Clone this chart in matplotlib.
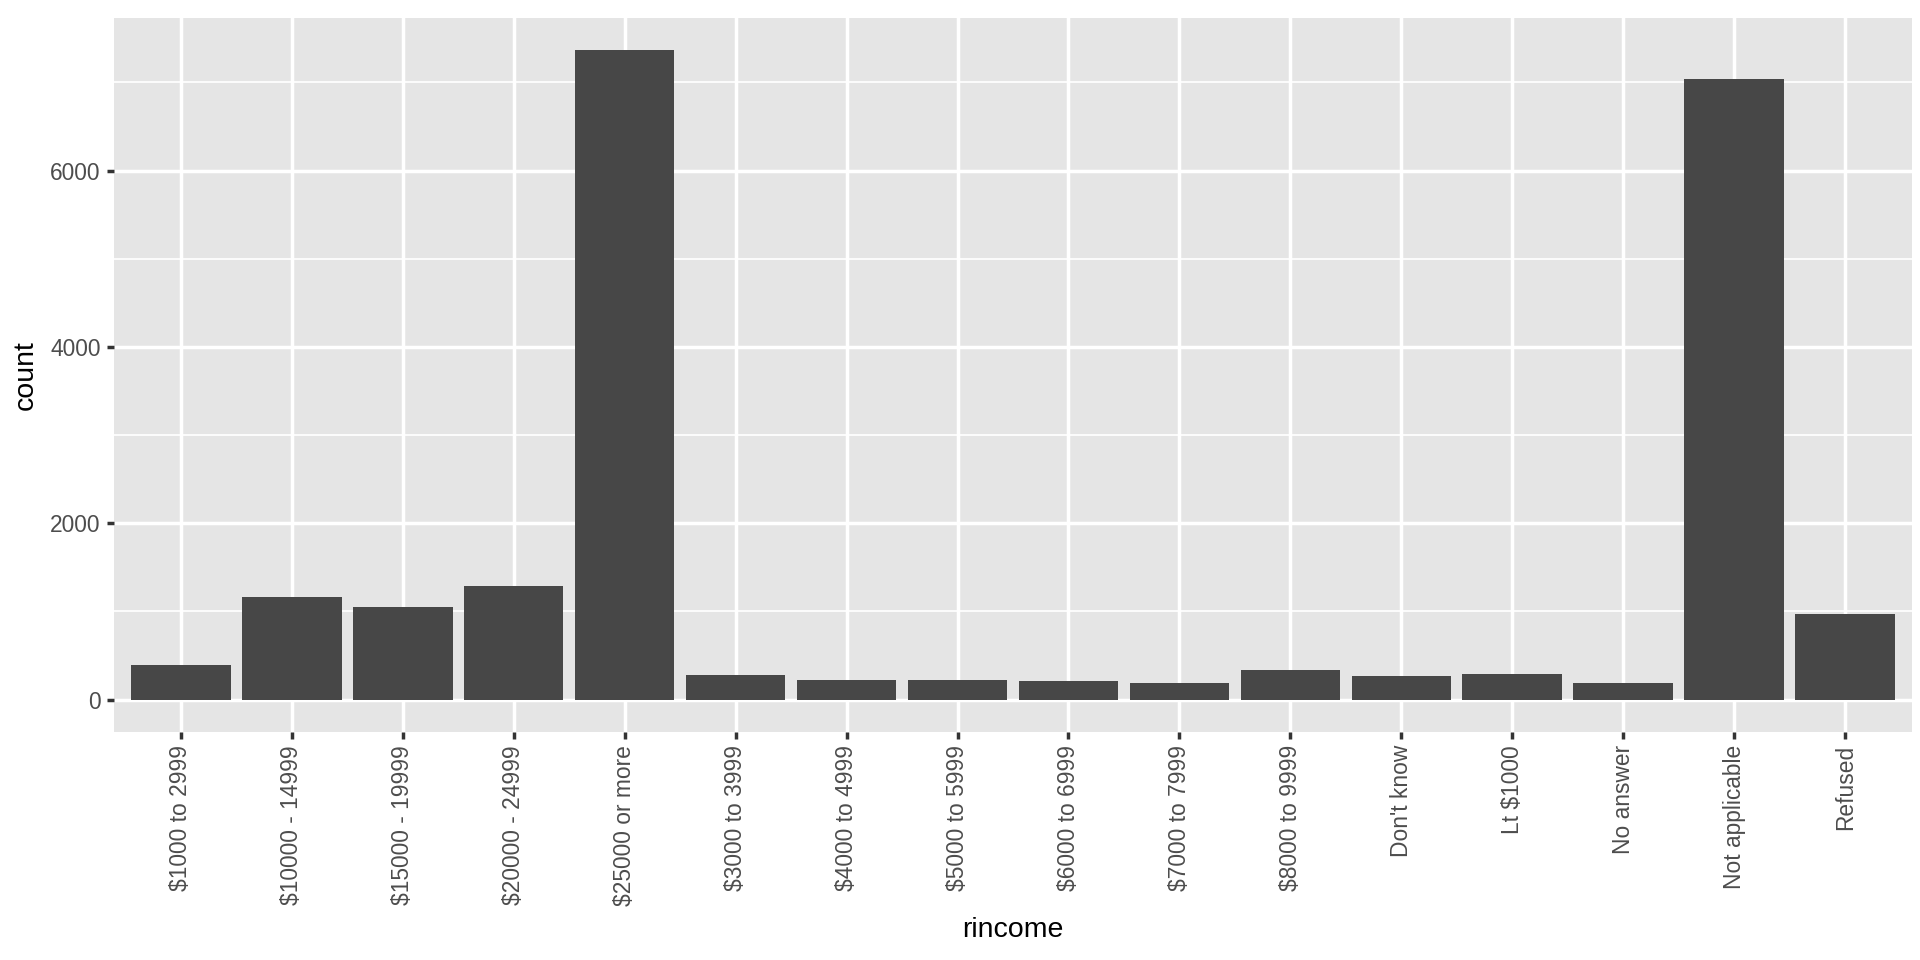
import matplotlib.pyplot as plt

# counts per reported income category
categories = ["$1000 to 2999", "$10000 - 14999", "$15000 - 19999", "$20000 - 24999",
              "$25000 or more", "$3000 to 3999", "$4000 to 4999", "$5000 to 5999",
              "$6000 to 6999", "$7000 to 7999", "$8000 to 9999", "Don't know",
              "Lt $1000", "No answer", "Not applicable", "Refused"]
counts = [395, 1168, 1048, 1283, 7363, 276, 226, 227, 215, 188, 340, 267, 286, 183, 7043, 975]

plt.rcParams['font.family'] = ['Liberation Sans', 'DejaVu Sans']

fig = plt.figure(figsize=(19.2, 9.6), dpi=100)
ax = fig.add_axes([114 / 1920, 1 - 732 / 960, 1798 / 1920, 714 / 960])

x = list(range(1, len(categories) + 1))
ax.bar(x, counts, width=0.9, color='#474747', linewidth=0, zorder=3)

ymax = max(counts)
ax.set_xlim(0.4, len(categories) + 0.6)
ax.set_ylim(-0.05 * ymax, 1.05 * ymax)

ax.set_facecolor('#E5E5E5')
for s in ax.spines.values():
    s.set_visible(False)

ax.set_xticks(x)
ax.set_xticklabels(categories, rotation=90, ha='center', va='top')
ax.set_yticks([0, 2000, 4000, 6000])
ax.set_yticks([1000, 3000, 5000, 7000], minor=True)
ax.grid(which='major', color='white', linewidth=2.5, zorder=0)
ax.grid(which='minor', axis='y', color='white', linewidth=1.25, zorder=0)
ax.set_axisbelow(True)

ax.tick_params(which='major', length=5, width=2.5, color='#333333',
               labelsize=16.4, labelcolor='#4D4D4D', pad=4.5)
ax.tick_params(which='minor', length=0)

ax.set_xlabel('rincome', fontsize=20.5, color='black')
ax.xaxis.label.set_va('center')
ax.xaxis.set_label_coords(0.5, (732 - 930) / 714)
ax.set_ylabel('count', fontsize=20.5, color='black')
ax.yaxis.label.set_va('center')
ax.yaxis.set_label_coords((26 - 114) / 1798, 0.5)

fig.savefig('out.png', dpi=100)
